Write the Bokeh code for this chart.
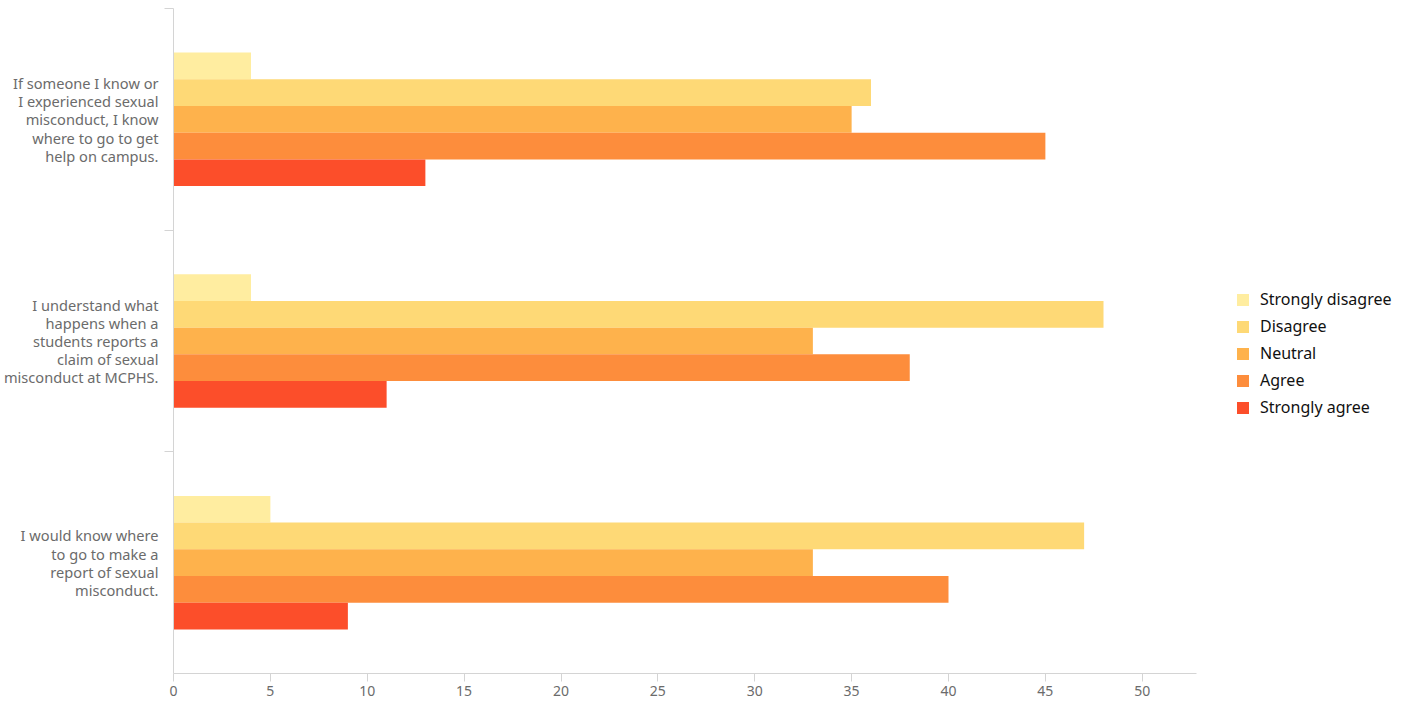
import numpy as np
from bokeh.plotting import figure
from bokeh.models import Range1d, FixedTicker, Legend, LegendItem, ColumnDataSource
from bokeh.embed import file_html
from bokeh.resources import INLINE

# ---- data ----
questions = [
    "If someone I know or\nI experienced sexual\nmisconduct, I know\nwhere to go to get\nhelp on campus.",
    "I understand what\nhappens when a\nstudents reports a\nclaim of sexual\nmisconduct at MCPHS.",
    "I would know where\nto go to make a\nreport of sexual\nmisconduct.",
]
responses = ["Strongly disagree", "Disagree", "Neutral", "Agree", "Strongly agree"]
strongly_disagree = [4, 4, 5]
disagree = [36, 48, 47]
neutral = [35, 33, 33]
agree = [45, 38, 40]
strongly_agree = [13, 11, 9]
x_ticks = [0, 5, 10, 15, 20, 25, 30, 35, 40, 45, 50]

series = [strongly_disagree, disagree, neutral, agree, strongly_agree]
colors = ["#ffeda0", "#fed976", "#feb24c", "#fd8d3c", "#fc4e2a"]

n_q = len(questions)
# category centres, first question on top
centres = np.array([n_q - 0.5 - i for i in range(n_q)])
bar_h = 0.1205
offsets = [(2 - k) * bar_h for k in range(len(responses))]

p = figure(
    output_backend="svg", toolbar_location=None,
    frame_width=1023, frame_height=665,
    min_border_left=166, min_border_right=211, min_border_top=8, min_border_bottom=13,
    x_range=Range1d(0, 52.8), y_range=Range1d(0, n_q),
)
p.outline_line_color = None
p.xgrid.visible = False
p.ygrid.visible = False

items = []
for k, (name, vals, col) in enumerate(zip(responses, series, colors)):
    src = ColumnDataSource(dict(y=centres + offsets[k], right=vals))
    r = p.hbar(y="y", right="right", left=0, height=bar_h, source=src,
               fill_color=col, line_color=None)
    items.append(LegendItem(label=name, renderers=[r]))

axis_col = "#d4d4d4"
lab_col = "#6b6b6b"

xa = p.xaxis[0]
xa.ticker = FixedTicker(ticks=x_ticks)
xa.axis_line_color = axis_col
xa.major_tick_line_color = axis_col
xa.major_tick_out = 8
xa.major_tick_in = 0
xa.minor_tick_line_color = None
xa.major_label_text_font = "Noto Sans"
xa.major_label_text_font_size = "14px"
xa.major_label_text_color = lab_col
xa.major_label_standoff = 4

ya = p.yaxis[0]
ya.ticker = FixedTicker(ticks=list(centres), minor_ticks=[1, 2, 3])
ya.major_label_overrides = {float(c): q for c, q in zip(centres, questions)}
ya.axis_line_color = axis_col
ya.major_tick_line_color = None
ya.major_tick_out = 0
ya.major_tick_in = 0
ya.minor_tick_line_color = axis_col
ya.minor_tick_out = 9
ya.minor_tick_in = 0
ya.major_label_text_font = "Noto Sans"
ya.major_label_text_font_size = "14.6px"
ya.major_label_text_color = lab_col
ya.major_label_text_line_height = 0.91
ya.major_label_standoff = 6

legend = Legend(items=items, location=(39, 255), border_line_color=None,
                background_fill_alpha=0, padding=10, margin=0,
                glyph_width=15, glyph_height=15, label_height=20, spacing=5,
                label_standoff=10, label_text_font="Noto Sans",
                label_text_font_size="16px", label_text_color="#111111")
p.add_layout(legend, "right")

open("out.html", "w").write(file_html(p, INLINE))
